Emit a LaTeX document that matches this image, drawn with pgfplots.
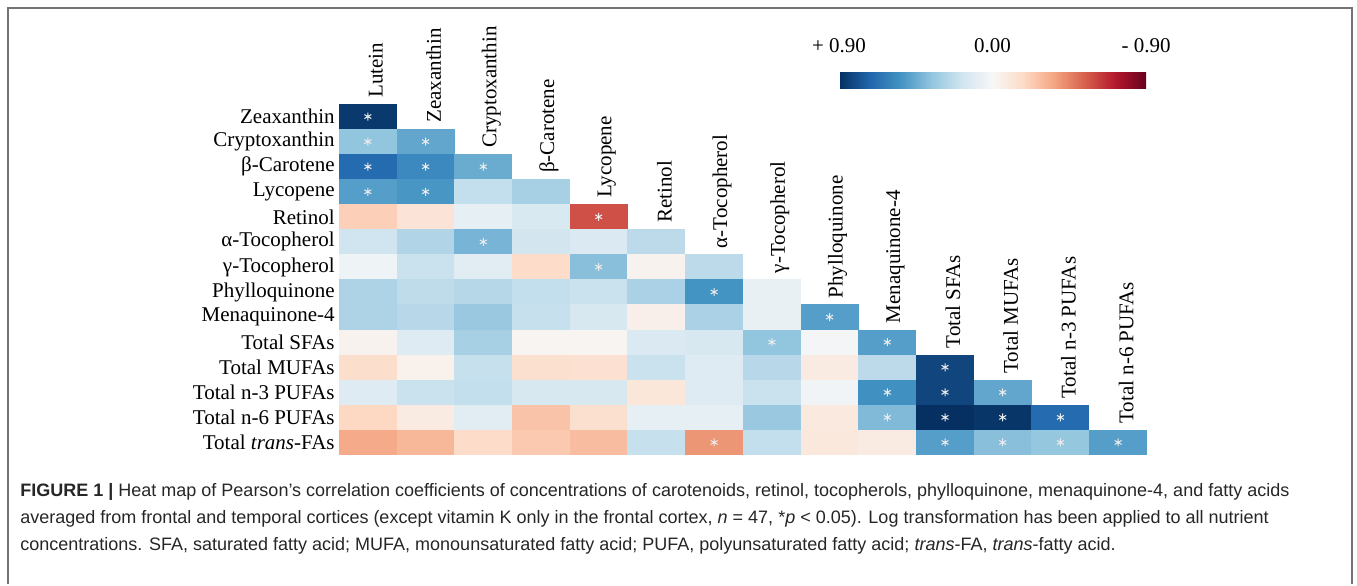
\documentclass[border=0pt]{standalone}
\usepackage{pgfplots}
\pgfplotsset{compat=1.18}
\usepackage{pgfplotstable}
\usepackage{fontspec}
\setmainfont{Liberation Serif}
\newfontfamily\capfont{Liberation Sans}

% one heat-map cell, 57.7 x 25.1 px of the reference
\pgfdeclareplotmark{cell}{%
  \pgfpathrectangle{\pgfpoint{-14.5pt}{-6.32pt}}{\pgfpoint{29pt}{12.64pt}}%
  \pgfusepathqfill}

\pgfplotsset{
  colormap={rdbu}{rgb255=(5,48,97) rgb255=(33,102,172) rgb255=(67,147,195)
    rgb255=(146,197,222) rgb255=(209,229,240) rgb255=(247,247,247)
    rgb255=(253,219,199) rgb255=(244,165,130) rgb255=(214,96,77)
    rgb255=(178,24,43) rgb255=(103,0,31)},
}

% c = column (Lutein ... Total n-6 PUFAs), r = row (Zeaxanthin ... Total trans-FAs), v = Pearson r
\pgfplotstableread{
c r v
0 0 0.87
0 1 0.36
1 1 0.47
0 2 0.70
1 2 0.58
2 2 0.45
0 3 0.50
1 3 0.53
2 3 0.22
3 3 0.30
0 4 -0.22
1 4 -0.12
2 4 0.08
3 4 0.14
4 4 -0.58
0 5 0.18
1 5 0.27
2 5 0.42
3 5 0.17
4 5 0.13
5 5 0.24
0 6 0.04
1 6 0.20
2 6 0.10
3 6 -0.17
4 6 0.38
5 6 -0.03
6 6 0.24
0 7 0.28
1 7 0.23
2 7 0.26
3 7 0.22
4 7 0.20
5 7 0.29
6 7 0.54
7 7 0.07
0 8 0.28
1 8 0.25
2 8 0.34
3 8 0.21
4 8 0.15
5 8 -0.05
6 8 0.29
7 8 0.07
8 8 0.50
0 9 -0.03
1 9 0.12
2 9 0.30
3 9 -0.02
4 9 -0.02
5 9 0.13
6 9 0.15
7 9 0.36
8 9 0.02
9 9 0.50
0 10 -0.16
1 10 -0.04
2 10 0.21
3 10 -0.15
4 10 -0.14
5 10 0.20
6 10 0.12
7 10 0.25
8 10 -0.08
9 10 0.24
10 10 0.83
0 11 0.12
1 11 0.20
2 11 0.22
3 11 0.15
4 11 0.15
5 11 -0.11
6 11 0.12
7 11 0.20
8 11 0.03
9 11 0.55
10 11 0.83
11 11 0.47
0 12 -0.19
1 12 -0.08
2 12 0.10
3 12 -0.26
4 12 -0.15
5 12 0.08
6 12 0.08
7 12 0.34
8 12 -0.09
9 12 0.40
10 12 0.95
11 12 0.88
12 12 0.70
0 13 -0.34
1 13 -0.30
2 13 -0.17
3 13 -0.24
4 13 -0.28
5 13 0.21
6 13 -0.40
7 13 0.22
8 13 -0.10
9 13 -0.08
10 13 0.50
11 13 0.38
12 13 0.35
13 13 0.50
}\corr

% cells with p < 0.05
\pgfplotstableread{
c r
0 0
0 1
1 1
0 2
1 2
2 2
0 3
1 3
4 4
2 5
4 6
6 7
8 8
7 9
9 9
10 10
9 11
10 11
11 11
9 12
10 12
11 12
12 12
6 13
10 13
11 13
12 13
13 13
}\stars

\begin{document}
\begin{tikzpicture}

\begin{scope}[x=0.5pt,y=-0.5pt]
  \draw[black!55, line width=1pt] (8,584) -- (8,8) -- (1352,8) -- (1352,584);
  \begin{scope}[every node/.style={anchor=base west, inner sep=0pt, text=black!85,
      font=\capfont\fontsize{9}{11}\selectfont}]
    \node at (20,496) {\textbf{FIGURE 1 |} Heat map of Pearson’s correlation coefficients of concentrations of carotenoids, retinol, tocopherols, phylloquinone, menaquinone-4, and fatty acids};
    \node at (20,523) {averaged from frontal and temporal cortices (except vitamin K only in the frontal cortex, \textit{n} = 47, *\textit{p} < 0.05). Log transformation has been applied to all nutrient};
    \node at (20,550) {concentrations. SFA, saturated fatty acid; MUFA, monounsaturated fatty acid; PUFA, polyunsaturated fatty acid; \textit{trans}-FA, \textit{trans}-fatty acid.};
  \end{scope}
\end{scope}

\begin{axis}[
    at={(169.5pt,-227.5pt)}, anchor=south west,
    scale only axis, width=404pt, height=175.5pt,
    xmin=-0.5, xmax=13.5, ymin=-0.5, ymax=13.5,
    y dir=reverse,
    clip=false,
    axis line style={draw=none},
    major tick length=0pt,
    xtick=\empty,
    ytick={0,...,13},
    yticklabels={Zeaxanthin, Cryptoxanthin, β-Carotene, Lycopene, Retinol,
      α-Tocopherol, γ-Tocopherol, Phylloquinone, Menaquinone-4, Total SFAs,
      Total MUFAs, Total n-3 PUFAs, Total n-6 PUFAs, Total \textit{trans}-FAs},
    yticklabel style={font=\fontsize{10.5}{12}\selectfont, inner xsep=2pt},
    colormap name=rdbu,
    point meta min=-0.9, point meta max=0.9,
    colorbar horizontal,
    colorbar style={
      at={(parent axis.north west)}, anchor=south west,
      xshift=250pt, yshift=16.5pt,
      scale only axis, width=153.5pt, height=8pt,
      axis line style={draw=none},
      major tick length=0pt,
      xtick={-0.9,0,0.9},
      xticklabels={{+ 0.90},{0.00},{- 0.90}},
      xticklabel pos=upper,
      xticklabel style={font=\fontsize{10.5}{12}\selectfont, yshift=6pt},
    },
  ]
  \addplot[scatter, only marks, mark=cell,
    scatter/use mapped color={draw=none, fill=mapped color},
    point meta={-\thisrow{v}}]
    table[x=c, y=r] {\corr};
  \addplot[only marks, mark=asterisk, mark size=2pt, line width=0.5pt,
    color=white!85!gray]
    table[x=c, y=r] {\stars};

  \begin{scope}[every node/.style={xshift=4pt, rotate=90, anchor=west,
      inner sep=3pt, font=\fontsize{10.5}{12}\selectfont}]
    \node at (axis cs:0,-0.5) {Lutein};
    \node at (axis cs:1,0.5) {Zeaxanthin};
    \node at (axis cs:2,1.5) {Cryptoxanthin};
    \node at (axis cs:3,2.5) {β-Carotene};
    \node at (axis cs:4,3.5) {Lycopene};
    \node at (axis cs:5,4.5) {Retinol};
    \node at (axis cs:6,5.5) {α-Tocopherol};
    \node at (axis cs:7,6.5) {γ-Tocopherol};
    \node at (axis cs:8,7.5) {Phylloquinone};
    \node at (axis cs:9,8.5) {Menaquinone-4};
    \node at (axis cs:10,9.5) {Total SFAs};
    \node at (axis cs:11,10.5) {Total MUFAs};
    \node at (axis cs:12,11.5) {Total n-3 PUFAs};
    \node at (axis cs:13,12.5) {Total n-6 PUFAs};
  \end{scope}
\end{axis}

\pgfresetboundingbox
\path[use as bounding box] (0,0) rectangle (678.5pt,-292.5pt);
\end{tikzpicture}
\end{document}
